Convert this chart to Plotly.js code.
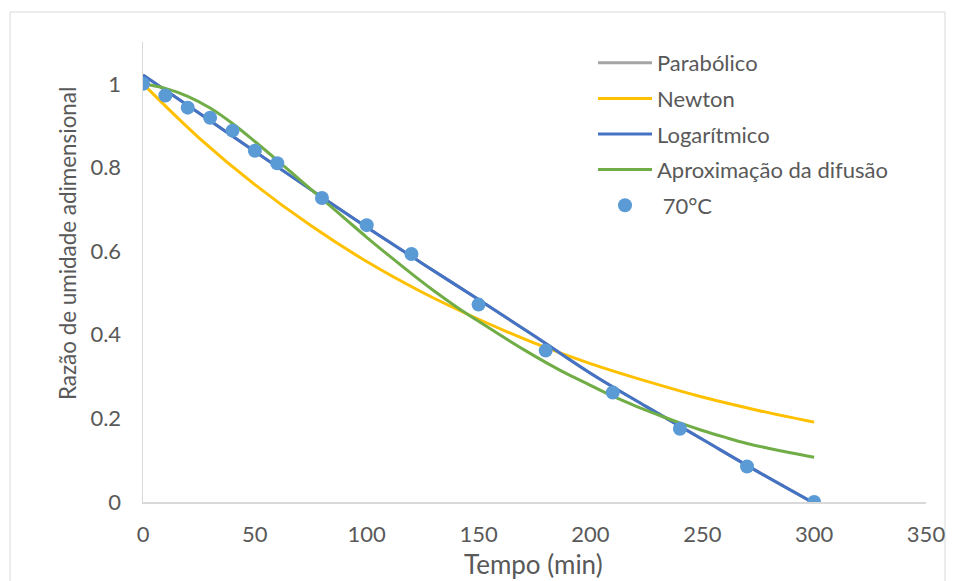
<!DOCTYPE html>
<html>
<head>
<meta charset="utf-8">
<script src="https://cdn.plot.ly/plotly-3.0.1.min.js"></script>
<style>
html,body{margin:0;padding:0;background:#fff;}
#chart{width:954px;height:581px;}
</style>
</head>
<body>
<div id="chart"></div>
<script>
// Experimental data (70°C)
const timePoints = [0,10,20,30,40,50,60,80,100,120,150,180,210,240,270,300];
const mr70 = [1.0,0.972,0.943,0.919,0.888,0.840,0.810,0.727,0.662,0.593,0.472,0.362,0.262,0.175,0.085,0.0];

// Model curves
const modelTime = [0,25,50,75,100,125,150,175,200,225,250,275,300];
const newtonMR = [1.000,0.871,0.759,0.661,0.575,0.501,0.437,0.380,0.331,0.289,0.251,0.219,0.191];
const logMR    = [1.021,0.930,0.838,0.747,0.657,0.570,0.484,0.397,0.308,0.228,0.150,0.072,-0.003];
const paraMR   = [1.021,0.930,0.838,0.747,0.657,0.570,0.484,0.397,0.308,0.228,0.150,0.072,-0.003];

const diffTime = [0,10,20,30,40,50,60,70,80,90,100,110,120,130,140,150,160,170,180,190,200,210,220,230,240,250,260,270,280,290,300];
const diffMR = [1.000,0.989,0.970,0.942,0.905,0.862,0.817,0.771,0.725,0.679,0.633,0.589,0.546,0.505,0.467,0.432,0.398,0.365,0.334,0.305,0.279,0.253,0.230,0.209,0.189,0.171,0.155,0.140,0.128,0.117,0.107];

const xTicks = [0,50,100,150,200,250,300,350];
const yTicks = [0,0.2,0.4,0.6,0.8,1];
const yTickText = ['0','0.2','0.4','0.6','0.8','1'];

const seriesNames = ['Parabólico','Newton','Logarítmico','Aproximação da difusão',' 70°C'];
const colors = ['#A5A5A5','#FFC000','#4472C4','#70AD47','#5B9BD5'];

const FONT = 'Lato, "Open Sans", sans-serif';
const TXT = '#595959';

const traces = [
  {x: modelTime, y: paraMR, name: seriesNames[0], mode:'lines', line:{color:colors[0], width:3, shape:'spline'}, legendgroup:'a'},
  {x: modelTime, y: newtonMR, name: seriesNames[1], mode:'lines', line:{color:colors[1], width:3, shape:'spline'}, legendgroup:'b'},
  {x: modelTime, y: logMR, name: seriesNames[2], mode:'lines', line:{color:colors[2], width:3, shape:'spline'}, legendgroup:'c'},
  {x: diffTime, y: diffMR, name: seriesNames[3], mode:'lines', line:{color:colors[3], width:3, shape:'spline'}, legendgroup:'d'},
  {x: timePoints, y: mr70, name: seriesNames[4], mode:'markers', marker:{color:colors[4], size:14}, legendgroup:'e'}
];

const L = 143, R = 28, T = 42, B = 79;
const W = 954, H = 581;
const pw = W - L - R, ph = H - T - B;
function px2x(p){ return (p - L) / pw; }
function py2y(p){ return (H - B - p) / ph; }

const layout = {
  width: W, height: H,
  margin: {l:L, r:R, t:T, b:B, pad:0},
  paper_bgcolor:'#ffffff', plot_bgcolor:'#ffffff',
  font: {family: FONT, size: 22, color: TXT},
  showlegend: true,
  legend: {
    x: px2x(593), y: py2y(42), xanchor:'left', yanchor:'top',
    font:{family: FONT, size: 22, color: TXT},
    traceorder:'grouped', tracegroupgap: 4,
    itemwidth: 54, bgcolor:'rgba(0,0,0,0)'
  },
  xaxis: {
    range:[0,350], tickvals: xTicks, ticktext: xTicks.map(String),
    showline:true, linecolor:'#D9D9D9', linewidth:1.5,
    showgrid:false, zeroline:false, ticks:'', ticklabelstandoff: 12,
    tickfont:{family: FONT, size:22, color: TXT},
    fixedrange:true
  },
  yaxis: {
    range:[0,1.1], tickvals: yTicks, ticktext: yTickText,
    showline:true, linecolor:'#D9D9D9', linewidth:1.5,
    showgrid:false, zeroline:false, ticks:'', ticklabelstandoff: 16,
    tickfont:{family: FONT, size:22, color: TXT},
    fixedrange:true
  },
  annotations: [
    {text:'Tempo (min)', xref:'paper', yref:'paper', x: px2x(533), y: py2y(564),
     xanchor:'center', yanchor:'middle', showarrow:false,
     font:{family: FONT, size:26, color: TXT}},
    {text:'Razão de umidade adimensional', xref:'paper', yref:'paper', x: px2x(67), y: py2y(244),
     xanchor:'center', yanchor:'middle', showarrow:false, textangle:-90,
     font:{family: FONT, size:22.4, color: TXT}}
  ],
  shapes: [
    {type:'rect', xref:'paper', yref:'paper', x0: px2x(10), x1: px2x(945), y0: py2y(620), y1: py2y(12),
     line:{color:'#D9D9D9', width:1}, fillcolor:'rgba(0,0,0,0)', layer:'below'}
  ]
};

Plotly.newPlot('chart', traces, layout, {displayModeBar:false, staticPlot:true});
</script>
</body>
</html>
